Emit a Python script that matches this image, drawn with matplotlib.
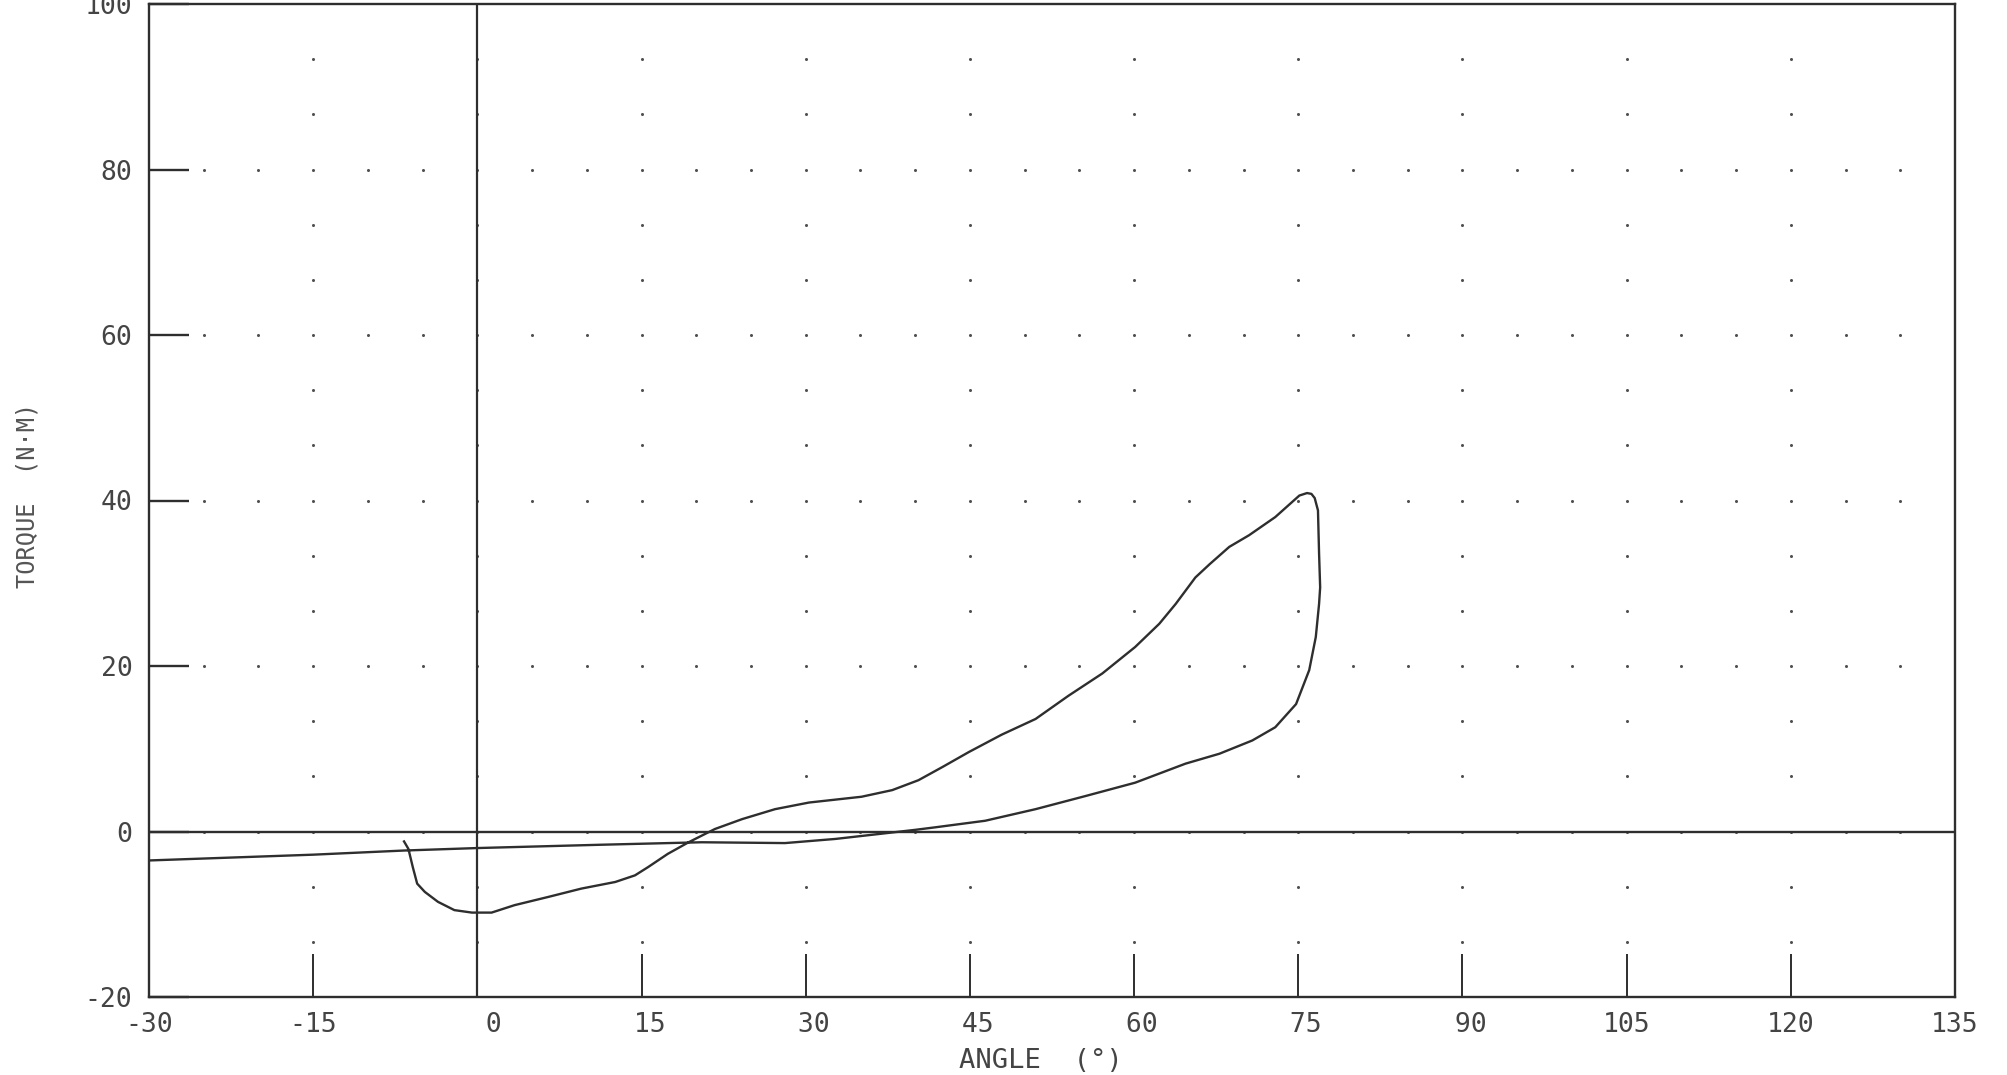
import numpy as np
import matplotlib
matplotlib.use("Agg")
import matplotlib.pyplot as plt

# ---- data ----
angle = [-6.7, -6.3, -5.9, -5.5, -4.8, -3.6, -2.1, -0.5, 1.3, 3.4, 6.5, 9.5,
         12.6, 14.4, 15.6, 17.4, 19.3, 21.7, 24.2, 27.2, 30.3, 35.1, 37.9,
         40.3, 42.5, 44.9, 47.9, 51.0, 54.0, 57.1, 60.1, 62.3, 63.8, 65.6,
         66.9, 68.7, 70.5, 72.9, 75.1, 75.8, 76.2, 76.5, 76.8, 76.9, 77.0, 76.9,
         76.6, 76.0, 74.8, 72.9, 70.8, 67.8, 64.7, 60.1, 55.6, 51.0, 46.4,
         41.8, 40.0, 36.7, 32.7, 28.1, 20.5, 11.3, 0.0, -6.7, -15.0, -30.0]
torque = [-1.2, -2.1, -4.3, -6.3, -7.3, -8.5, -9.5, -9.8, -9.8, -8.9, -7.9, -6.9,
          -6.1, -5.3, -4.3, -2.7, -1.3, 0.3, 1.5, 2.7, 3.5, 4.2, 5.0,
          6.2, 7.8, 9.6, 11.7, 13.6, 16.4, 19.1, 22.3, 25.1, 27.5, 30.7,
          32.3, 34.4, 35.8, 38.0, 40.6, 40.9, 40.8, 40.3, 38.8, 33.6, 29.5, 27.5,
          23.5, 19.5, 15.4, 12.6, 11.0, 9.4, 8.2, 5.9, 4.3, 2.7, 1.3,
          0.5, 0.2, -0.3, -0.9, -1.4, -1.3, -1.6, -2.0, -2.3, -2.8, -3.5]

x_ticks = [-30, -15, 0, 15, 30, 45, 60, 75, 90, 105, 120, 135]
y_ticks = [-20, 0, 20, 40, 60, 80, 100]
x_label = "ANGLE  (\u00b0)"
y_label = "TORQUE  (N\u00b7M)"

INK = "#2e2e2e"
FONT = "DejaVu Sans Mono"
plt.rcParams["font.family"] = [FONT, "DejaVu Sans"]

fig = plt.figure(figsize=(20.07, 10.75), dpi=100)
ax = fig.add_axes([149 / 2007, 78 / 1075, 1806 / 2007, 993 / 1075])
ax.set_xlim(-30, 135)
ax.set_ylim(-20, 100)

# dotted grid: rows every 20/3 units; major rows (multiples of 20) dotted every 5 deg
rows = np.linspace(-20, 100, 19)[1:-1]
for r in rows:
    if abs(r / 20 - round(r / 20)) < 1e-6:
        xs = np.arange(-25, 131, 5)
    else:
        xs = np.arange(-15, 121, 15)
    ax.plot(xs, np.full(len(xs), r), ls="none", marker="o", ms=2.2,
            color="#505050", mec="none", zorder=1)

# reference lines through zero
ax.axhline(0, color=INK, lw=1.7, zorder=2)
ax.axvline(0, color=INK, lw=1.6, zorder=2)

# the torque-angle loop
ax.plot(angle, torque, color=INK, lw=1.7, zorder=3, solid_joinstyle="round")

# frame and ticks
for s in ax.spines.values():
    s.set_color(INK)
    s.set_linewidth(1.7)
ax.set_xticks(x_ticks)
ax.set_yticks(y_ticks)
ax.set_xticklabels([f"{v:>3}" for v in x_ticks])
ax.set_yticklabels([str(v) for v in y_ticks])
ax.tick_params(axis="x", direction="in", length=31, width=1.4, color=INK,
               pad=11, labelsize=19, labelcolor="#444444")
ax.tick_params(axis="y", direction="in", length=29, width=1.7, color=INK,
               pad=12, labelsize=19, labelcolor="#444444")
for lab in ax.get_xticklabels() + ax.get_yticklabels():
    lab.set_fontfamily(FONT)

ax.set_xlabel(x_label, fontsize=19.5, color="#444444", va="center")
ax.xaxis.set_label_coords(0.494, -0.064)
ax.set_ylabel(y_label, fontsize=17, color="#555555", va="center")
ax.yaxis.set_label_coords(-0.067, 0.505)

fig.savefig("out.png", dpi=100, facecolor="white")
